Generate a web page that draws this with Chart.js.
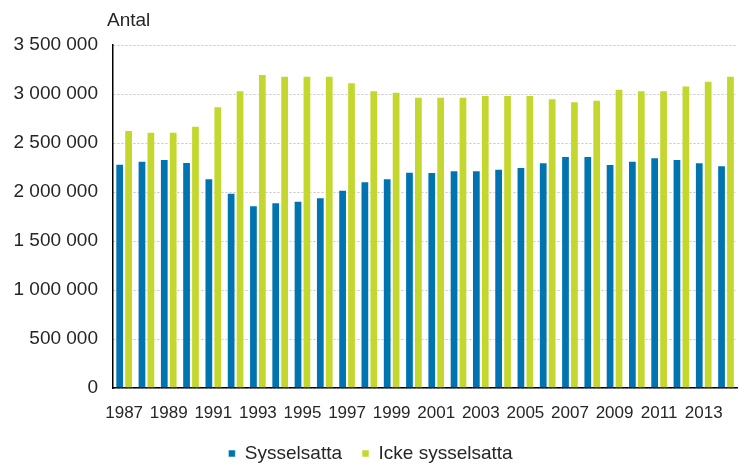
<!DOCTYPE html>
<html>
<head>
<meta charset="utf-8">
<script src="https://cdn.jsdelivr.net/npm/chart.js@4/dist/chart.umd.min.js"></script>
<style>
html,body{margin:0;padding:0;background:#fff;overflow:hidden;width:739px;height:465px;}
#wrap{width:741px;height:473px;position:relative;}
</style>
</head>
<body>
<div id="wrap"><canvas id="c"></canvas></div>
<script>
const years = ['1987','1988','1989','1990','1991','1992','1993','1994','1995','1996','1997','1998','1999','2000',
  '2001','2002','2003','2004','2005','2006','2007','2008','2009','2010','2011','2012','2013','2014'];
const xTickLabels = ['1987','1989','1991','1993','1995','1997','1999','2001','2003','2005','2007','2009','2011','2013'];
const employed = [2289000,2320000,2337000,2306000,2140000,1993000,1864000,1895000,1911000,1946000,2024000,2109000,2140000,2207000,
  2204000,2221000,2221000,2238000,2255000,2303000,2367000,2367000,2286000,2320000,2354000,2337000,2303000,2272000];
const notEmployed = [2633000,2615000,2615000,2677000,2874000,3037000,3204000,3187000,3187000,3187000,3119000,3037000,3024000,2973000,
  2973000,2973000,2990000,2990000,2990000,2956000,2925000,2942000,3054000,3037000,3037000,3088000,3136000,3187000];
const seriesNames = ['Sysselsatta','Icke sysselsatta'];
const yTitle = 'Antal';

const FONT = "'Liberation Sans', Arial, sans-serif";
const TXT = '#262626';

const antalPlugin = {
  id: 'antal',
  afterDraw(chart) {
    const ctx = chart.ctx;
    ctx.save();
    ctx.font = '19px ' + FONT;
    ctx.fillStyle = TXT;
    ctx.textAlign = 'left';
    ctx.textBaseline = 'alphabetic';
    ctx.fillText(yTitle, 107, 26);
    ctx.restore();
  }
};

new Chart(document.getElementById('c'), {
  type: 'bar',
  data: {
    labels: years,
    datasets: [
      { label: seriesNames[0], data: employed, backgroundColor: '#0073B1', borderColor: 'rgba(255,255,255,0.55)', borderWidth: 1,
        categoryPercentage: 0.8, barPercentage: 0.98 },
      { label: seriesNames[1], data: notEmployed, backgroundColor: '#C3D72F', borderColor: 'rgba(255,255,255,0.55)', borderWidth: 1,
        categoryPercentage: 0.8, barPercentage: 0.98 }
    ]
  },
  options: {
    responsive: true,
    maintainAspectRatio: false,
    animation: false,
    layout: { padding: { top: 45, left: 0, right: 0, bottom: 0 } },
    plugins: {
      legend: {
        position: 'bottom',
        labels: {
          boxWidth: 7, boxHeight: 7,
          color: TXT,
          font: { family: FONT, size: 19 },
          padding: 20
        }
      },
      tooltip: { enabled: false }
    },
    scales: {
      x: {
        afterFit(scale) { scale.height = 36; },
        grid: { display: false, drawTicks: false },
        border: { display: true, color: '#000', width: 1.5 },
        ticks: {
          autoSkip: false, maxRotation: 0, minRotation: 0,
          color: TXT, padding: 15,
          font: { family: FONT, size: 17 },
          callback: function(v, i) { const l = years[i]; return xTickLabels.includes(l) ? l : ''; }
        }
      },
      y: {
        min: 0, max: 3500000,
        afterFit(scale) { scale.width = 113; },
        grid: { color: '#c4c4c4', lineWidth: 1, drawTicks: false },
        border: { display: true, color: '#000', width: 1.5, dash: [2, 2] },
        ticks: {
          stepSize: 500000, padding: 15,
          color: TXT,
          font: { family: FONT, size: 19 },
          callback: v => String(v).replace(/\B(?=(\d{3})+(?!\d))/g, ' ')
        }
      }
    }
  },
  plugins: [antalPlugin]
});
</script>
</body>
</html>
